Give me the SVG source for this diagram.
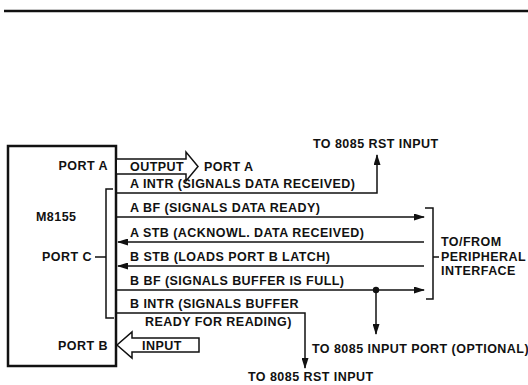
<svg xmlns="http://www.w3.org/2000/svg" width="528" height="385" viewBox="0 0 528 385">
<style>
text{font-family:"Liberation Sans",Arial,sans-serif;font-weight:bold;font-size:12.5px;letter-spacing:0.45px;fill:#111}
.ln{fill:none;stroke:#111;stroke-width:1.5}
.box{fill:#fff;stroke:#111;stroke-width:2.5}
.fat{fill:#fff;stroke:#111;stroke-width:1.5;stroke-linejoin:miter}
</style>
<defs>
<marker id="ah" markerUnits="userSpaceOnUse" markerWidth="11" markerHeight="7" refX="10" refY="3.5" orient="auto">
<path d="M0,0 L11,3.5 L0,7 z" fill="#111"/>
</marker>
</defs>
<rect width="528" height="385" fill="#fff"/>
<line x1="4" y1="11" x2="528" y2="11" stroke="#111" stroke-width="2.4"/>

<g id="m8155">
<rect class="box" x="8" y="146" width="108" height="220"/>
<text x="36" y="221">M8155</text>
<text x="108" y="170" text-anchor="end">PORT A</text>
<text x="92" y="261" text-anchor="end">PORT C</text>
<text x="108" y="350" text-anchor="end">PORT B</text>
<path class="ln" d="M95,257 H106 M113,189 H106 V318 H114"/>
</g>

<g id="output">
<path class="fat" d="M117,159 H186 V152 L198,166.5 L186,181 V174 H117"/>
<text x="130" y="171">OUTPUT</text>
<text x="204" y="171">PORT A</text>
</g>

<g id="input">
<path class="fat" d="M199,338 H132 V332 L117,345 L132,358 V352 H199 Z"/>
<text x="142" y="349.5">INPUT</text>
</g>

<g id="peripheral">
<path class="ln" d="M425,208 H433 V299 H426 M433,257 H439"/>
<text x="441" y="246">TO/FROM</text>
<text x="441" y="261">PERIPHERAL</text>
<text x="441" y="275">INTERFACE</text>
</g>

<g id="labels">
<text x="313" y="148">TO 8085 RST INPUT</text>
<text x="130" y="188">A INTR (SIGNALS DATA RECEIVED)</text>
<text x="130" y="212">A BF (SIGNALS DATA READY)</text>
<text x="130" y="237">A STB (ACKNOWL. DATA RECEIVED)</text>
<text x="130" y="261">B STB (LOADS PORT B LATCH)</text>
<text x="130" y="285">B BF (SIGNALS BUFFER IS FULL)</text>
<text x="130" y="308">B INTR (SIGNALS BUFFER</text>
<text x="145" y="326">READY FOR READING)</text>
<text x="312" y="353">TO 8085 INPUT PORT (OPTIONAL)</text>
<text x="248" y="381">TO 8085 RST INPUT</text>
</g>

<g id="connectors">
<polyline class="ln" points="117,193 377,193 377,155" marker-end="url(#ah)"/>
<line class="ln" x1="117" y1="217" x2="424" y2="217" marker-end="url(#ah)"/>
<line class="ln" x1="424" y1="242" x2="118" y2="242" marker-end="url(#ah)"/>
<line class="ln" x1="424" y1="266" x2="118" y2="266" marker-end="url(#ah)"/>
<line class="ln" x1="117" y1="290" x2="424" y2="290" marker-end="url(#ah)"/>
<circle cx="376" cy="290" r="3.2" fill="#111"/>
<line class="ln" x1="376" y1="290" x2="376" y2="334" marker-end="url(#ah)"/>
<polyline class="ln" points="117,313 305,313 305,368" marker-end="url(#ah)"/>
</g>
</svg>
